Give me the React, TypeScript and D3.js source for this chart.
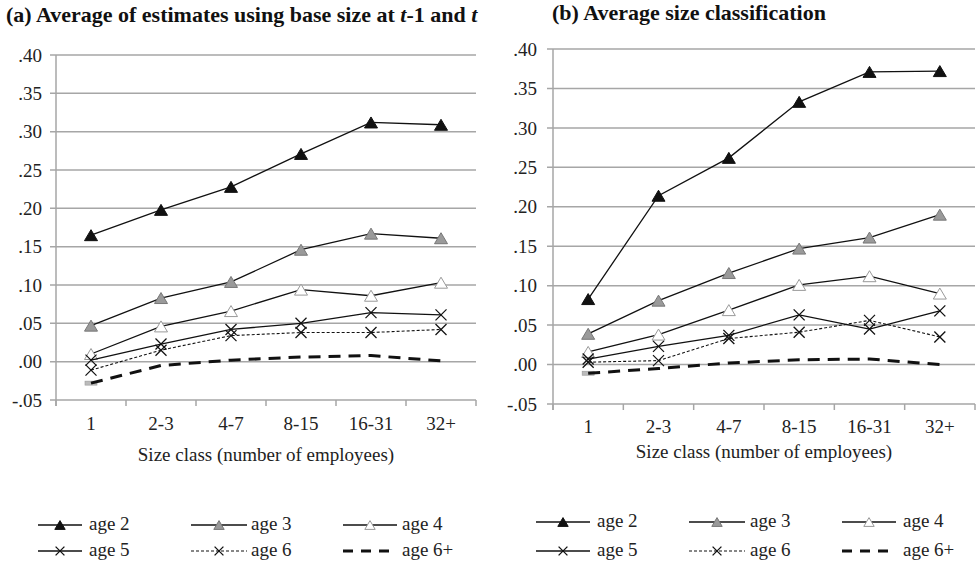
import React from "react";
import * as d3 from "d3";

const categories = ["1", "2-3", "4-7", "8-15", "16-31", "32+"];
const yTicks = [-0.05, 0, 0.05, 0.1, 0.15, 0.2, 0.25, 0.3, 0.35, 0.4];
const seriesNames = ["age 2", "age 3", "age 4", "age 5", "age 6", "age 6+"];

// Panel (a)
const a_age2 = [0.165, 0.198, 0.228, 0.271, 0.312, 0.309];
const a_age3 = [0.047, 0.083, 0.104, 0.146, 0.167, 0.161];
const a_age4 = [0.010, 0.046, 0.066, 0.094, 0.086, 0.103];
const a_age5 = [0.002, 0.023, 0.042, 0.050, 0.064, 0.061];
const a_age6 = [-0.011, 0.015, 0.034, 0.038, 0.038, 0.042];
const a_age6p = [-0.028, -0.005, 0.002, 0.006, 0.008, 0.001];

// Panel (b)
const b_age2 = [0.083, 0.214, 0.262, 0.333, 0.371, 0.372];
const b_age3 = [0.039, 0.081, 0.116, 0.147, 0.161, 0.190];
const b_age4 = [0.016, 0.038, 0.069, 0.101, 0.112, 0.090];
const b_age5 = [0.007, 0.023, 0.037, 0.063, 0.045, 0.068];
const b_age6 = [0.003, 0.005, 0.033, 0.041, 0.056, 0.035];
const b_age6p = [-0.011, -0.005, 0.002, 0.006, 0.007, 0.000];

type Style = {
  stroke: string;
  width: number;
  dash?: string;
  marker: "triBlack" | "triGray" | "triWhite" | "x" | "dash";
};

const styles: Style[] = [
  { stroke: "#111", width: 1.3, marker: "triBlack" },
  { stroke: "#111", width: 1.3, marker: "triGray" },
  { stroke: "#111", width: 1.3, marker: "triWhite" },
  { stroke: "#111", width: 1.3, marker: "x" },
  { stroke: "#111", width: 1.1, dash: "3,2", marker: "x" },
  { stroke: "#111", width: 3, dash: "12,8", marker: "dash" },
];

const FONT = "Liberation Serif, Times New Roman, serif";
const GRID = "#a6a6a6";
const FS = 19;

function Marker({ kind, x, y, s = 1 }: { kind: Style["marker"]; x: number; y: number; s?: number }) {
  const w = 6.5 * s;
  const h = 11 * s;
  if (kind === "triBlack" || kind === "triGray" || kind === "triWhite") {
    const fill = kind === "triBlack" ? "#111" : kind === "triGray" ? "#9a9a9a" : "#fff";
    const stroke = kind === "triBlack" ? "#111" : kind === "triGray" ? "#777" : "#999";
    const pts = `${x - w},${y + h / 2} ${x + w},${y + h / 2} ${x},${y - h / 2}`;
    return <polygon points={pts} fill={fill} stroke={stroke} strokeWidth={1} />;
  }
  if (kind === "x") {
    const r = 5.5 * s;
    return (
      <g stroke="#111" strokeWidth={1.3}>
        <line x1={x - r} y1={y - r} x2={x + r} y2={y + r} />
        <line x1={x - r} y1={y + r} x2={x + r} y2={y - r} />
      </g>
    );
  }
  return null;
}

type PanelProps = {
  title: React.ReactNode;
  titleX: number;
  titleY: number;
  left: number;
  right: number;
  yTop: number;
  yBottom: number;
  labelX: number;
  catLabelY: number;
  axisTitleY: number;
  data: number[][];
  legendRows: number[];
  legendCols: { x0: number; x1: number; tx: number }[];
};

function Panel(p: PanelProps) {
  const x = d3.scaleBand<string>().domain(categories).range([p.left, p.right]);
  const y = d3.scaleLinear().domain([-0.05, 0.4]).range([p.yBottom, p.yTop]);
  const cx = (c: string) => (x(c) as number) + x.bandwidth() / 2;
  const line = d3
    .line<number>()
    .x((_, i) => cx(categories[i]))
    .y((d) => y(d));
  const fmt = (v: number) => {
    const s = d3.format(".2f")(Math.abs(v)).replace(/^0/, "");
    return v < -1e-9 ? "-" + s : s;
  };
  const tickEdges = [...categories.map((c) => x(c) as number), p.right];
  return (
    <g style={{ fontFamily: FONT }}>
      <text x={p.titleX} y={p.titleY} fontWeight="bold" fontSize={22} fill="#111">
        {p.title}
      </text>
      {yTicks.map((t) => (
        <g key={t}>
          <line x1={p.left - 6} x2={p.right} y1={y(t)} y2={y(t)} stroke={GRID} strokeWidth={1.5} />
          <text x={p.labelX} y={y(t)} dy="0.35em" textAnchor="end" fontSize={FS} fill="#222">
            {fmt(t)}
          </text>
        </g>
      ))}
      <line x1={p.left} x2={p.left} y1={p.yTop} y2={p.yBottom + 6} stroke={GRID} strokeWidth={1.5} />
      {tickEdges.map((e, i) => (
        <line key={i} x1={e} x2={e} y1={p.yBottom} y2={p.yBottom + 6} stroke={GRID} strokeWidth={1.5} />
      ))}
      {categories.map((c) => (
        <text key={c} x={cx(c)} y={p.catLabelY} textAnchor="middle" fontSize={FS} fill="#222">
          {c}
        </text>
      ))}
      <text x={(p.left + p.right) / 2} y={p.axisTitleY} textAnchor="middle" fontSize={FS} fill="#222">
        Size class (number of employees)
      </text>
      {p.data.map((vals, si) => {
        const st = styles[si];
        return (
          <g key={si}>
            {st.marker === "dash" && (
              <rect
                x={cx(categories[0]) - 6}
                y={y(vals[0]) - 2}
                width={12}
                height={4}
                fill="#bbb"
                stroke="#999"
                strokeWidth={0.6}
              />
            )}
            <path
              d={line(vals) as string}
              fill="none"
              stroke={st.stroke}
              strokeWidth={st.width}
              strokeDasharray={st.dash}
            />
            {vals.map((v, i) => (
              <Marker key={i} kind={st.marker} x={cx(categories[i])} y={y(v)} />
            ))}
          </g>
        );
      })}
      {seriesNames.map((name, si) => {
        const row = Math.floor(si / 3);
        const col = si % 3;
        const st = styles[si];
        const c = p.legendCols[col];
        const ly = p.legendRows[row];
        return (
          <g key={name}>
            <line
              x1={c.x0}
              x2={c.x1}
              y1={ly}
              y2={ly}
              stroke={st.stroke}
              strokeWidth={st.width}
              strokeDasharray={st.marker === "dash" ? "10,8" : st.dash}
            />
            <Marker kind={st.marker} x={(c.x0 + c.x1) / 2} y={ly} s={0.8} />
            <text x={c.tx} y={ly + 5} fontSize={FS} fill="#222">
              {name}
            </text>
          </g>
        );
      })}
    </g>
  );
}

export default function App() {
  return (
    <svg width={976} height={572} style={{ display: "block", position: "absolute", left: 0, top: 0 }}>
      <rect width={976} height={572} fill="#fff" />
      <Panel
        title={
          <>
            (a) Average of estimates using base size at <tspan fontStyle="italic">t</tspan>-1 and{" "}
            <tspan fontStyle="italic">t</tspan>
          </>
        }
        titleX={6}
        titleY={22}
        left={56}
        right={476}
        yTop={55}
        yBottom={400}
        labelX={42}
        catLabelY={430}
        axisTitleY={461}
        data={[a_age2, a_age3, a_age4, a_age5, a_age6, a_age6p]}
        legendRows={[525, 551]}
        legendCols={[
          { x0: 38, x1: 82, tx: 89 },
          { x0: 191, x1: 247, tx: 251 },
          { x0: 343, x1: 397, tx: 402 },
        ]}
      />
      <Panel
        title="(b) Average size classification"
        titleX={552}
        titleY={20}
        left={553}
        right={975}
        yTop={49}
        yBottom={404}
        labelX={537}
        catLabelY={433}
        axisTitleY={458}
        data={[b_age2, b_age3, b_age4, b_age5, b_age6, b_age6p]}
        legendRows={[522, 551]}
        legendCols={[
          { x0: 536, x1: 590, tx: 597 },
          { x0: 689, x1: 745, tx: 750 },
          { x0: 842, x1: 896, tx: 903 },
        ]}
      />
    </svg>
  );
}
